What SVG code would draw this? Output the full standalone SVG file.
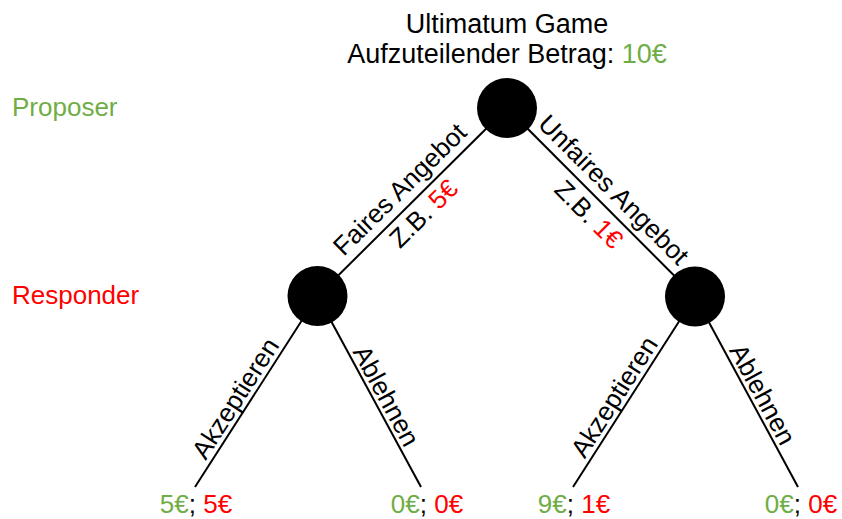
<svg xmlns="http://www.w3.org/2000/svg" width="842" height="519" viewBox="0 0 842 519">
  <style>
    text { font-family: "Liberation Sans", Arial, sans-serif; font-size: 26px; fill: #000; }
    .title { font-size: 27px; }
    .green { fill: #70AD47; }
    .red { fill: #FF0000; }
    .mid { text-anchor: middle; }
    .edge { stroke: #000; stroke-width: 2; fill: none; }
    .node { fill: #000; }
  </style>

  <!-- title -->
  <g id="title">
    <text class="mid title" x="507" y="33">Ultimatum Game</text>
    <text class="mid title" x="507" y="63">Aufzuteilender Betrag: <tspan class="green">10€</tspan></text>
  </g>

  <!-- player rows -->
  <g id="roles">
    <text class="green" x="12" y="116">Proposer</text>
    <text class="red" x="12" y="304">Responder</text>
  </g>

  <!-- branches -->
  <g id="connectors">
    <line class="edge" x1="507" y1="108" x2="317.5" y2="296"/>
    <line class="edge" x1="507" y1="108" x2="695" y2="296.5"/>
    <line class="edge" x1="317.5" y1="296" x2="195" y2="487"/>
    <line class="edge" x1="317.5" y1="296" x2="421" y2="487"/>
    <line class="edge" x1="695" y1="296.5" x2="573" y2="487"/>
    <line class="edge" x1="695" y1="296.5" x2="798" y2="487"/>

    <!-- branch labels -->
    <g transform="translate(412.25 202) rotate(-44.6)">
      <text class="mid" x="0" y="-9">Faires Angebot</text>
      <text class="mid" x="0" y="25">Z.B. <tspan class="red">5€</tspan></text>
    </g>
    <g transform="translate(601 202.25) rotate(44.9)">
      <text class="mid" x="0" y="-9">Unfaires Angebot</text>
      <text class="mid" x="0" y="26">Z.B. <tspan class="red">1€</tspan></text>
    </g>
    <g transform="translate(256.25 391.5) rotate(-57.3)">
      <text class="mid" x="-17" y="-5">Akzeptieren</text>
    </g>
    <g transform="translate(369.25 391.5) rotate(61.5)">
      <text class="mid" x="12" y="-4">Ablehnen</text>
    </g>
    <g transform="translate(634 391.75) rotate(-57.4)">
      <text class="mid" x="-15" y="-5">Akzeptieren</text>
    </g>
    <g transform="translate(746.5 391.75) rotate(61.6)">
      <text class="mid" x="10" y="-4">Ablehnen</text>
    </g>
  </g>

  <!-- decision nodes -->
  <g id="node-proposer">
    <circle class="node" cx="507" cy="108" r="30"/>
  </g>
  <g id="node-responder-fair">
    <circle class="node" cx="317.5" cy="296" r="30"/>
  </g>
  <g id="node-responder-unfair">
    <circle class="node" cx="695" cy="296.5" r="30"/>
  </g>

  <!-- payoffs -->
  <g id="payoff-fair-accept">
    <text class="mid" x="196" y="513"><tspan class="green">5€</tspan>; <tspan class="red">5€</tspan></text>
  </g>
  <g id="payoff-fair-reject">
    <text class="mid" x="427" y="513"><tspan class="green">0€</tspan>; <tspan class="red">0€</tspan></text>
  </g>
  <g id="payoff-unfair-accept">
    <text class="mid" x="574" y="513"><tspan class="green">9€</tspan>; <tspan class="red">1€</tspan></text>
  </g>
  <g id="payoff-unfair-reject">
    <text class="mid" x="801" y="513"><tspan class="green">0€</tspan>; <tspan class="red">0€</tspan></text>
  </g>
</svg>
